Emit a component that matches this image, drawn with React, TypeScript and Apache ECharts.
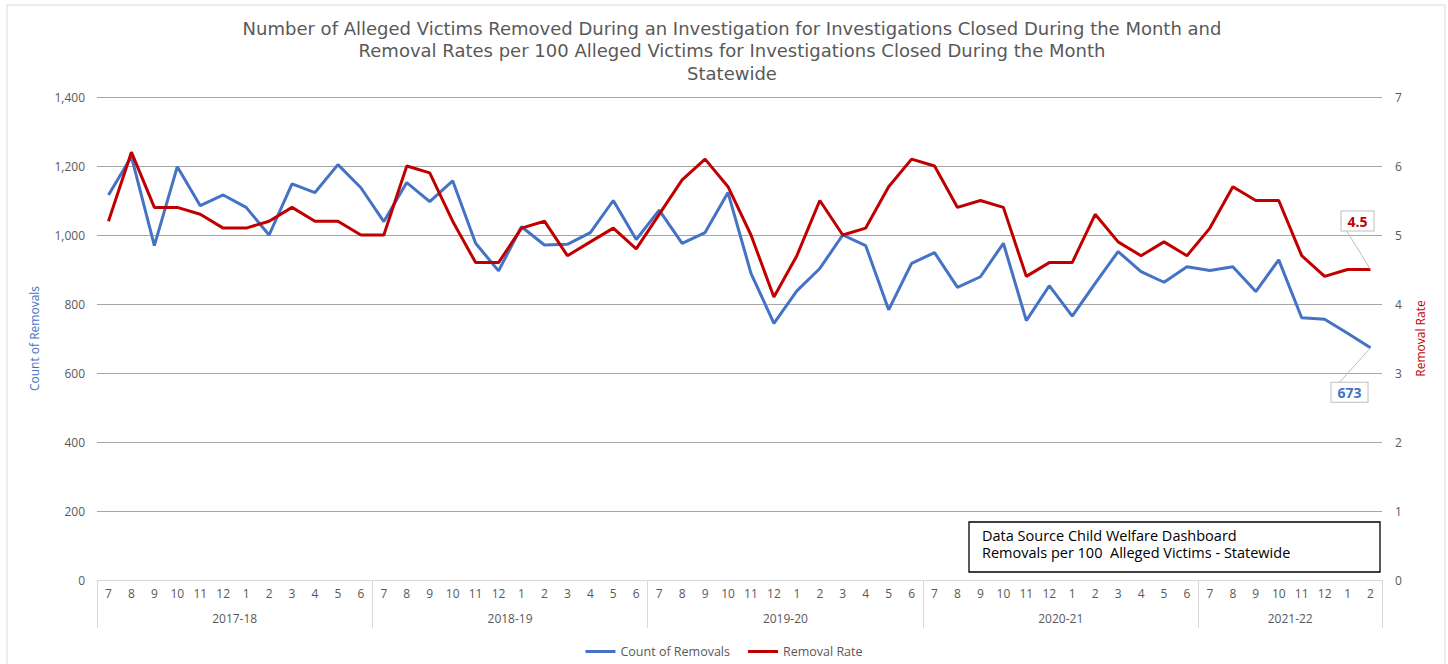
import React, { useEffect, useRef } from "react";
import * as echarts from "echarts";

const yearLabels = ["2017-18", "2018-19", "2019-20", "2020-21", "2021-22"];
const yearMonthCounts = [12, 12, 12, 12, 8];
const monthLabels = [
  "7", "8", "9", "10", "11", "12", "1", "2", "3", "4", "5", "6",
  "7", "8", "9", "10", "11", "12", "1", "2", "3", "4", "5", "6",
  "7", "8", "9", "10", "11", "12", "1", "2", "3", "4", "5", "6",
  "7", "8", "9", "10", "11", "12", "1", "2", "3", "4", "5", "6",
  "7", "8", "9", "10", "11", "12", "1", "2",
];
const countOfRemovals = [
  1116, 1227, 969, 1198, 1085, 1116, 1080, 1000, 1148, 1123, 1204, 1137,
  1039, 1152, 1097, 1157, 976, 896, 1024, 971, 973, 1007, 1100, 987,
  1072, 976, 1007, 1123, 889, 744, 838, 903, 1000, 969, 783, 918,
  949, 848, 879, 976, 752, 853, 765, 860, 952, 894, 863, 908,
  897, 908, 836, 928, 760, 756, 715, 673,
];
const removalRate = [
  5.2, 6.2, 5.4, 5.4, 5.3, 5.1, 5.1, 5.2, 5.4, 5.2, 5.2, 5.0,
  5.0, 6.0, 5.9, 5.2, 4.6, 4.6, 5.1, 5.2, 4.7, 4.9, 5.1, 4.8,
  5.3, 5.8, 6.1, 5.7, 5.0, 4.1, 4.7, 5.5, 5.0, 5.1, 5.7, 6.1,
  6.0, 5.4, 5.5, 5.4, 4.4, 4.6, 4.6, 5.3, 4.9, 4.7, 4.9, 4.7,
  5.1, 5.7, 5.5, 5.5, 4.7, 4.4, 4.5, 4.5,
];
const countTicks = { min: 0, max: 1400, interval: 200 };
const rateTicks = { min: 0, max: 7, interval: 1 };
const titleLines = [
  "Number of Alleged Victims Removed During an Investigation for Investigations Closed During the Month and",
  "Removal Rates per 100 Alleged Victims for Investigations Closed During the Month",
  "Statewide",
];
const noteLines = [
  "Data Source Child Welfare Dashboard",
  "Removals per 100  Alleged Victims - Statewide",
];

const FONT = "'Open Sans', 'Noto Sans', sans-serif";
const TITLE_FONT = "'DejaVu Sans', 'Open Sans', sans-serif";
const BLUE = "#4472C4";
const RED = "#C00000";
const GRAY = "#595959";

export default function App() {
  const ref = useRef<HTMLDivElement>(null);
  useEffect(() => {
    if (!ref.current) return;
    const chart = echarts.init(ref.current, undefined, { renderer: "svg" });

    const boundaries: number[] = [];
    const centres: Record<number, string> = {};
    let acc = 0;
    yearMonthCounts.forEach((n, i) => {
      boundaries.push(acc);
      centres[acc + n / 2] = yearLabels[i];
      acc += n;
    });
    const total = acc;

    const lastIdx = countOfRemovals.length - 1;
    const boxLabel = (color: string, position: string, formatter: any) => ({
      show: true,
      position,
      formatter,
      color,
      fontWeight: "bold",
      fontSize: 14,
      fontFamily: FONT,
      backgroundColor: "#fff",
      borderColor: "#bfbfbf",
      borderWidth: 1,
      padding: [3, 6, 2, 6],
    });
    const countData = countOfRemovals.map((v, i) =>
      i === lastIdx ? { value: v, label: boxLabel(BLUE, "bottom", "{c}") } : v
    );
    const rateData = removalRate.map((v, i) =>
      i === lastIdx
        ? { value: v, label: boxLabel(RED, "top", (p: any) => Number(p.value).toFixed(1)) }
        : v
    );

    chart.setOption({
      animation: false,
      backgroundColor: "#fff",
      textStyle: { fontFamily: FONT },
      title: {
        text: titleLines.join("\n"),
        left: 727,
        top: 12,
        textAlign: "center",
        textStyle: {
          fontFamily: TITLE_FONT,
          fontSize: 18,
          fontWeight: "normal",
          color: GRAY,
          lineHeight: 22.5,
        },
      },
      legend: {
        top: 640,
        left: "center",
        itemWidth: 30,
        itemHeight: 3,
        itemGap: 18,
        icon: "rect",
        textStyle: { color: GRAY, fontSize: 12.5, fontFamily: FONT },
        data: ["Count of Removals", "Removal Rate"],
      },
      grid: { left: 97, right: 66, top: 97, bottom: 84, containLabel: false },
      xAxis: [
        {
          type: "category",
          data: monthLabels,
          boundaryGap: true,
          position: "bottom",
          axisLine: { show: true, lineStyle: { color: "#d9d9d9", width: 1 } },
          axisTick: {
            show: true,
            length: 48,
            interval: (idx: number) => boundaries.indexOf(idx) >= 0,
            lineStyle: { color: "#d9d9d9", width: 1 },
          },
          axisLabel: { interval: 0, color: GRAY, fontSize: 12, margin: 7, fontFamily: FONT },
          splitLine: { show: false },
        },
        {
          type: "value",
          min: 0,
          max: total,
          interval: 2,
          position: "bottom",
          offset: 26,
          axisLine: { show: false },
          axisTick: { show: false },
          splitLine: { show: false },
          axisLabel: {
            color: GRAY,
            fontSize: 12,
            margin: 6,
            fontFamily: FONT,
            formatter: (v: number) => centres[v] || "",
          },
        },
      ],
      yAxis: [
        {
          type: "value",
          min: countTicks.min,
          max: countTicks.max,
          interval: countTicks.interval,
          name: "Count of Removals",
          nameLocation: "middle",
          nameGap: 57,
          nameRotate: 90,
          nameTextStyle: { color: BLUE, fontSize: 12, fontFamily: FONT },
          axisLine: { show: false },
          axisTick: { show: false },
          axisLabel: {
            color: GRAY,
            fontSize: 12,
            margin: 12,
            fontFamily: FONT,
            formatter: (v: number) => v.toLocaleString("en-US"),
          },
          splitLine: { show: true, showMinLine: false, lineStyle: { color: "#a6a6a6", width: 1 } },
        },
        {
          type: "value",
          min: rateTicks.min,
          max: rateTicks.max,
          interval: rateTicks.interval,
          position: "right",
          name: "Removal Rate",
          nameLocation: "middle",
          nameGap: 32,
          nameRotate: 90,
          nameTextStyle: { color: RED, fontSize: 12, fontFamily: FONT },
          axisLine: { show: false },
          axisTick: { show: false },
          axisLabel: { color: GRAY, fontSize: 12, margin: 13, fontFamily: FONT },
          splitLine: { show: false },
        },
      ],
      series: [
        {
          name: "Count of Removals",
          type: "line",
          xAxisIndex: 0,
          yAxisIndex: 0,
          data: countData,
          symbol: "circle",
          symbolSize: 0,
          showSymbol: true,
          showAllSymbol: true,
          lineStyle: { color: BLUE, width: 3 },
          itemStyle: { color: BLUE },
          labelLine: { show: true, lineStyle: { color: "#bfbfbf", width: 1 } },
          labelLayout: { dx: -21, dy: 30 },
          z: 3,
        },
        {
          name: "Removal Rate",
          type: "line",
          xAxisIndex: 0,
          yAxisIndex: 1,
          data: rateData,
          symbol: "circle",
          symbolSize: 0,
          showSymbol: true,
          showAllSymbol: true,
          lineStyle: { color: RED, width: 3 },
          itemStyle: { color: RED },
          labelLine: { show: true, lineStyle: { color: "#bfbfbf", width: 1 } },
          labelLayout: { dx: -13, dy: -34 },
          z: 4,
        },
      ],
      graphic: [
        {
          type: "rect",
          silent: true,
          z: -10,
          shape: { x: 7, y: 5, width: 1438, height: 680 },
          style: { fill: "none", stroke: "#d9d9d9", lineWidth: 1 },
        },
        {
          type: "group",
          z: 10,
          children: [
            {
              type: "rect",
              shape: { x: 969, y: 522, width: 411, height: 50 },
              style: { fill: "#fff", stroke: "#000", lineWidth: 1.3 },
            },
            {
              type: "text",
              x: 982,
              y: 528,
              style: { text: noteLines[0], fontFamily: FONT, fontSize: 14.5, fill: "#000" },
            },
            {
              type: "text",
              x: 982,
              y: 545,
              style: { text: noteLines[1], fontFamily: FONT, fontSize: 14.5, fill: "#000" },
            },
          ],
        },
      ],
    });
    return () => chart.dispose();
  }, []);
  return (
    <div
      ref={ref}
      style={{ position: "absolute", left: 0, top: 0, width: 1448, height: 664 }}
    />
  );
}
